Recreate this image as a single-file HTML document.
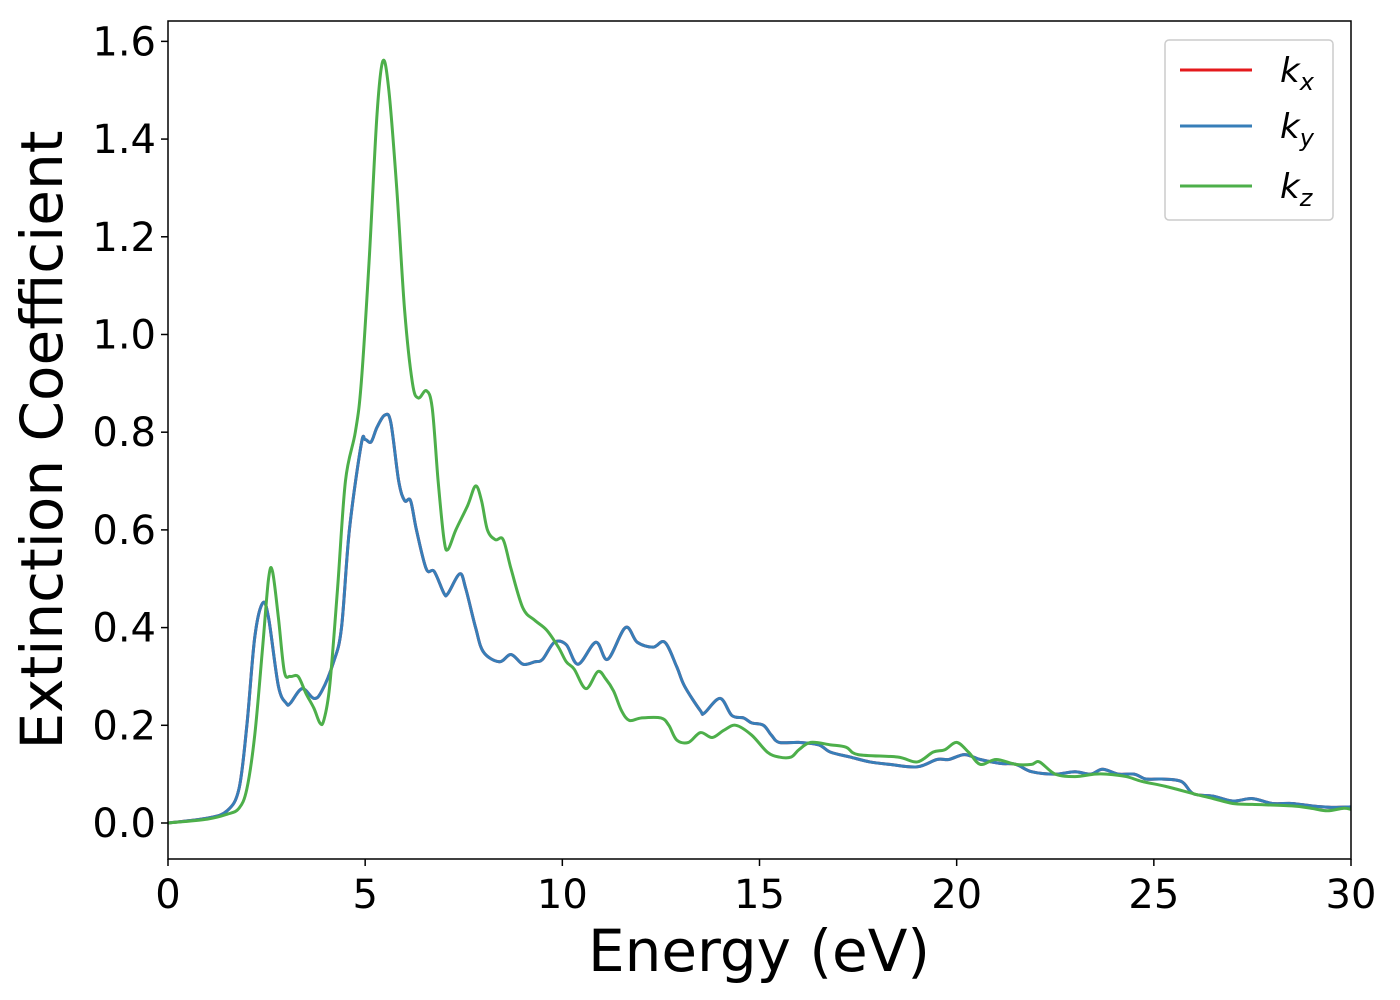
<!DOCTYPE html>
<html><head><meta charset="utf-8"><style>
body{margin:0;background:#fff;}
svg{display:block;font-family:"DejaVu Sans","Liberation Sans",sans-serif;}
</style></head><body>
<svg id="chart" width="1400" height="1000" viewBox="0 0 1400 1000" xmlns="http://www.w3.org/2000/svg">
<rect width="1400" height="1000" fill="#fff"/>
<g id="plot"></g>
<g id="axes"></g>
<text x="759" y="971" font-size="58" text-anchor="middle">Energy (eV)</text>
<text transform="translate(62,440) rotate(-90)" font-size="58" text-anchor="middle">Extinction Coefficient</text>
<g>
<rect x="1165" y="40" width="168" height="180" rx="4" fill="#fff" stroke="#ccc" stroke-width="1.5"/>
<line x1="1180" y1="70" x2="1252" y2="70" stroke="#e41a1c" stroke-width="3"/>
<text x="1280" y="82" font-size="34" font-style="italic">k<tspan font-size="24" dy="8">x</tspan></text>
<line x1="1180" y1="126" x2="1252" y2="126" stroke="#377eb8" stroke-width="3"/>
<text x="1280" y="138" font-size="34" font-style="italic">k<tspan font-size="24" dy="8">y</tspan></text>
<line x1="1180" y1="186" x2="1252" y2="186" stroke="#4daf4a" stroke-width="3"/>
<text x="1280" y="198" font-size="34" font-style="italic">k<tspan font-size="24" dy="8">z</tspan></text>
</g>
</svg>
<script>
const xTicks=[0,5,10,15,20,25,30];
const yTicks=[0.0,0.2,0.4,0.6,0.8,1.0,1.2,1.4,1.6];
const energyXY=[0,1,1.5,1.8,2.0,2.2,2.4,2.55,2.8,3.0,3.1,3.4,3.7,3.9,4.2,4.4,4.6,4.9,5.0,5.15,5.3,5.5,5.65,5.85,6.0,6.15,6.3,6.55,6.75,7.0,7.1,7.4,7.55,7.8,8.0,8.4,8.7,9.0,9.3,9.5,9.8,10.1,10.4,10.85,11.15,11.6,11.9,12.3,12.6,12.9,13.1,13.5,13.6,14.0,14.3,14.6,14.8,15.1,15.3,15.5,16.0,16.5,16.8,17.3,17.8,18.3,19.0,19.5,19.8,20.2,20.6,21.1,21.5,21.9,22.5,23.0,23.4,23.7,24.1,24.5,24.8,25.2,25.7,26.0,26.5,27.0,27.5,28.0,28.5,29.0,29.5,30];
const kxy=[0,0.01,0.025,0.07,0.2,0.38,0.45,0.42,0.28,0.245,0.245,0.275,0.255,0.27,0.33,0.4,0.6,0.775,0.785,0.78,0.81,0.835,0.82,0.7,0.66,0.66,0.6,0.52,0.515,0.47,0.47,0.51,0.48,0.4,0.35,0.33,0.345,0.325,0.33,0.335,0.37,0.365,0.325,0.37,0.335,0.4,0.37,0.36,0.37,0.32,0.28,0.23,0.225,0.255,0.22,0.215,0.205,0.2,0.18,0.165,0.165,0.16,0.145,0.135,0.125,0.12,0.115,0.13,0.13,0.14,0.13,0.122,0.12,0.105,0.1,0.105,0.1,0.11,0.1,0.1,0.09,0.09,0.085,0.06,0.055,0.045,0.05,0.04,0.04,0.035,0.032,0.033];
const energyZ=[0,1,1.5,1.8,2.0,2.2,2.4,2.55,2.65,2.8,2.95,3.1,3.3,3.5,3.7,3.85,3.95,4.1,4.3,4.5,4.75,4.9,5.1,5.3,5.45,5.6,5.8,6.0,6.2,6.35,6.55,6.7,6.85,7.0,7.1,7.3,7.6,7.8,7.95,8.1,8.3,8.5,8.7,9.0,9.3,9.6,9.9,10.1,10.3,10.6,10.9,11.1,11.3,11.5,11.7,12.0,12.5,12.7,12.9,13.2,13.5,13.8,14.1,14.4,14.8,15.2,15.5,15.8,16.0,16.3,16.8,17.2,17.5,18.5,19.0,19.4,19.7,20.0,20.3,20.6,21.0,21.5,21.9,22.1,22.5,23.0,23.5,23.8,24.3,24.7,25.3,26.0,26.5,27.0,27.5,28.5,29.0,29.4,29.8,30];
const kz=[0,0.008,0.018,0.03,0.07,0.18,0.36,0.5,0.515,0.42,0.31,0.3,0.3,0.265,0.235,0.205,0.21,0.28,0.48,0.7,0.8,0.9,1.15,1.45,1.56,1.5,1.3,1.05,0.9,0.87,0.885,0.85,0.7,0.58,0.56,0.6,0.65,0.69,0.66,0.6,0.58,0.58,0.52,0.44,0.415,0.395,0.36,0.33,0.315,0.275,0.31,0.295,0.27,0.23,0.21,0.215,0.215,0.2,0.17,0.165,0.185,0.175,0.19,0.2,0.18,0.145,0.135,0.135,0.15,0.165,0.16,0.155,0.14,0.135,0.125,0.145,0.15,0.165,0.145,0.12,0.13,0.12,0.12,0.125,0.1,0.095,0.1,0.1,0.095,0.085,0.075,0.06,0.05,0.04,0.038,0.035,0.03,0.025,0.03,0.028];

const L=168,R=1351,T=21,B=859;
const xMin=0,xMax=30,yMin=-0.0737,yMax=1.6417;
function sx(v){return L+(v-xMin)/(xMax-xMin)*(R-L);}
function sy(v){return B-(v-yMin)/(yMax-yMin)*(B-T);}
const NS="http://www.w3.org/2000/svg";
function mk(tag,attrs,parent){const e=document.createElementNS(NS,tag);for(const k in attrs)e.setAttribute(k,attrs[k]);parent.appendChild(e);return e;}
function pathD(xs,ys){
  const p=xs.map((x,i)=>[sx(x),sy(ys[i])]);
  let d="M"+p[0][0].toFixed(2)+","+p[0][1].toFixed(2);
  for(let i=0;i<p.length-1;i++){
    const p0=p[i-1]||p[i],p1=p[i],p2=p[i+1],p3=p[i+2]||p[i+1];
    const c1=[p1[0]+(p2[0]-p0[0])/6,p1[1]+(p2[1]-p0[1])/6];
    const c2=[p2[0]-(p3[0]-p1[0])/6,p2[1]-(p3[1]-p1[1])/6];
    d+="C"+c1[0].toFixed(2)+","+c1[1].toFixed(2)+" "+c2[0].toFixed(2)+","+c2[1].toFixed(2)+" "+p2[0].toFixed(2)+","+p2[1].toFixed(2);
  }
  return d;
}
const plot=document.getElementById('plot');
const defs=mk('defs',{},plot);
const cp=mk('clipPath',{id:'clip'},defs);
mk('rect',{x:L,y:T,width:R-L,height:B-T},cp);
const g=mk('g',{'clip-path':'url(#clip)'},plot);
const lx=mk('path',{d:pathD(energyXY,kxy),fill:'none',stroke:'#e41a1c','stroke-width':3},g);


const ly=mk('path',{d:pathD(energyXY,kxy),fill:'none',stroke:'#377eb8','stroke-width':3},g);


const lz=mk('path',{d:pathD(energyZ,kz),fill:'none',stroke:'#4daf4a','stroke-width':3},g);



const axes=document.getElementById('axes');
const frame=mk('rect',{x:L,y:T,width:R-L,height:B-T,fill:'none',stroke:'#000','stroke-width':1.5},axes);


xTicks.forEach(v=>{
  const x=sx(v);
  const t=mk('line',{x1:x,y1:B,x2:x,y2:B+7,stroke:'#000','stroke-width':1.5},axes);
  
  
  const lb=mk('text',{x:x,y:B+49,'font-size':40,'text-anchor':'middle'},axes);
  lb.textContent=String(v);
  
  
});
yTicks.forEach(v=>{
  const y=sy(v);
  const t=mk('line',{x1:L-7,y1:y,x2:L,y2:y,stroke:'#000','stroke-width':1.5},axes);
  
  
  const lb=mk('text',{x:L-12,y:y+14,'font-size':40,'text-anchor':'end'},axes);
  lb.textContent=v.toFixed(1);
  
  
});
</script>
</body></html>
